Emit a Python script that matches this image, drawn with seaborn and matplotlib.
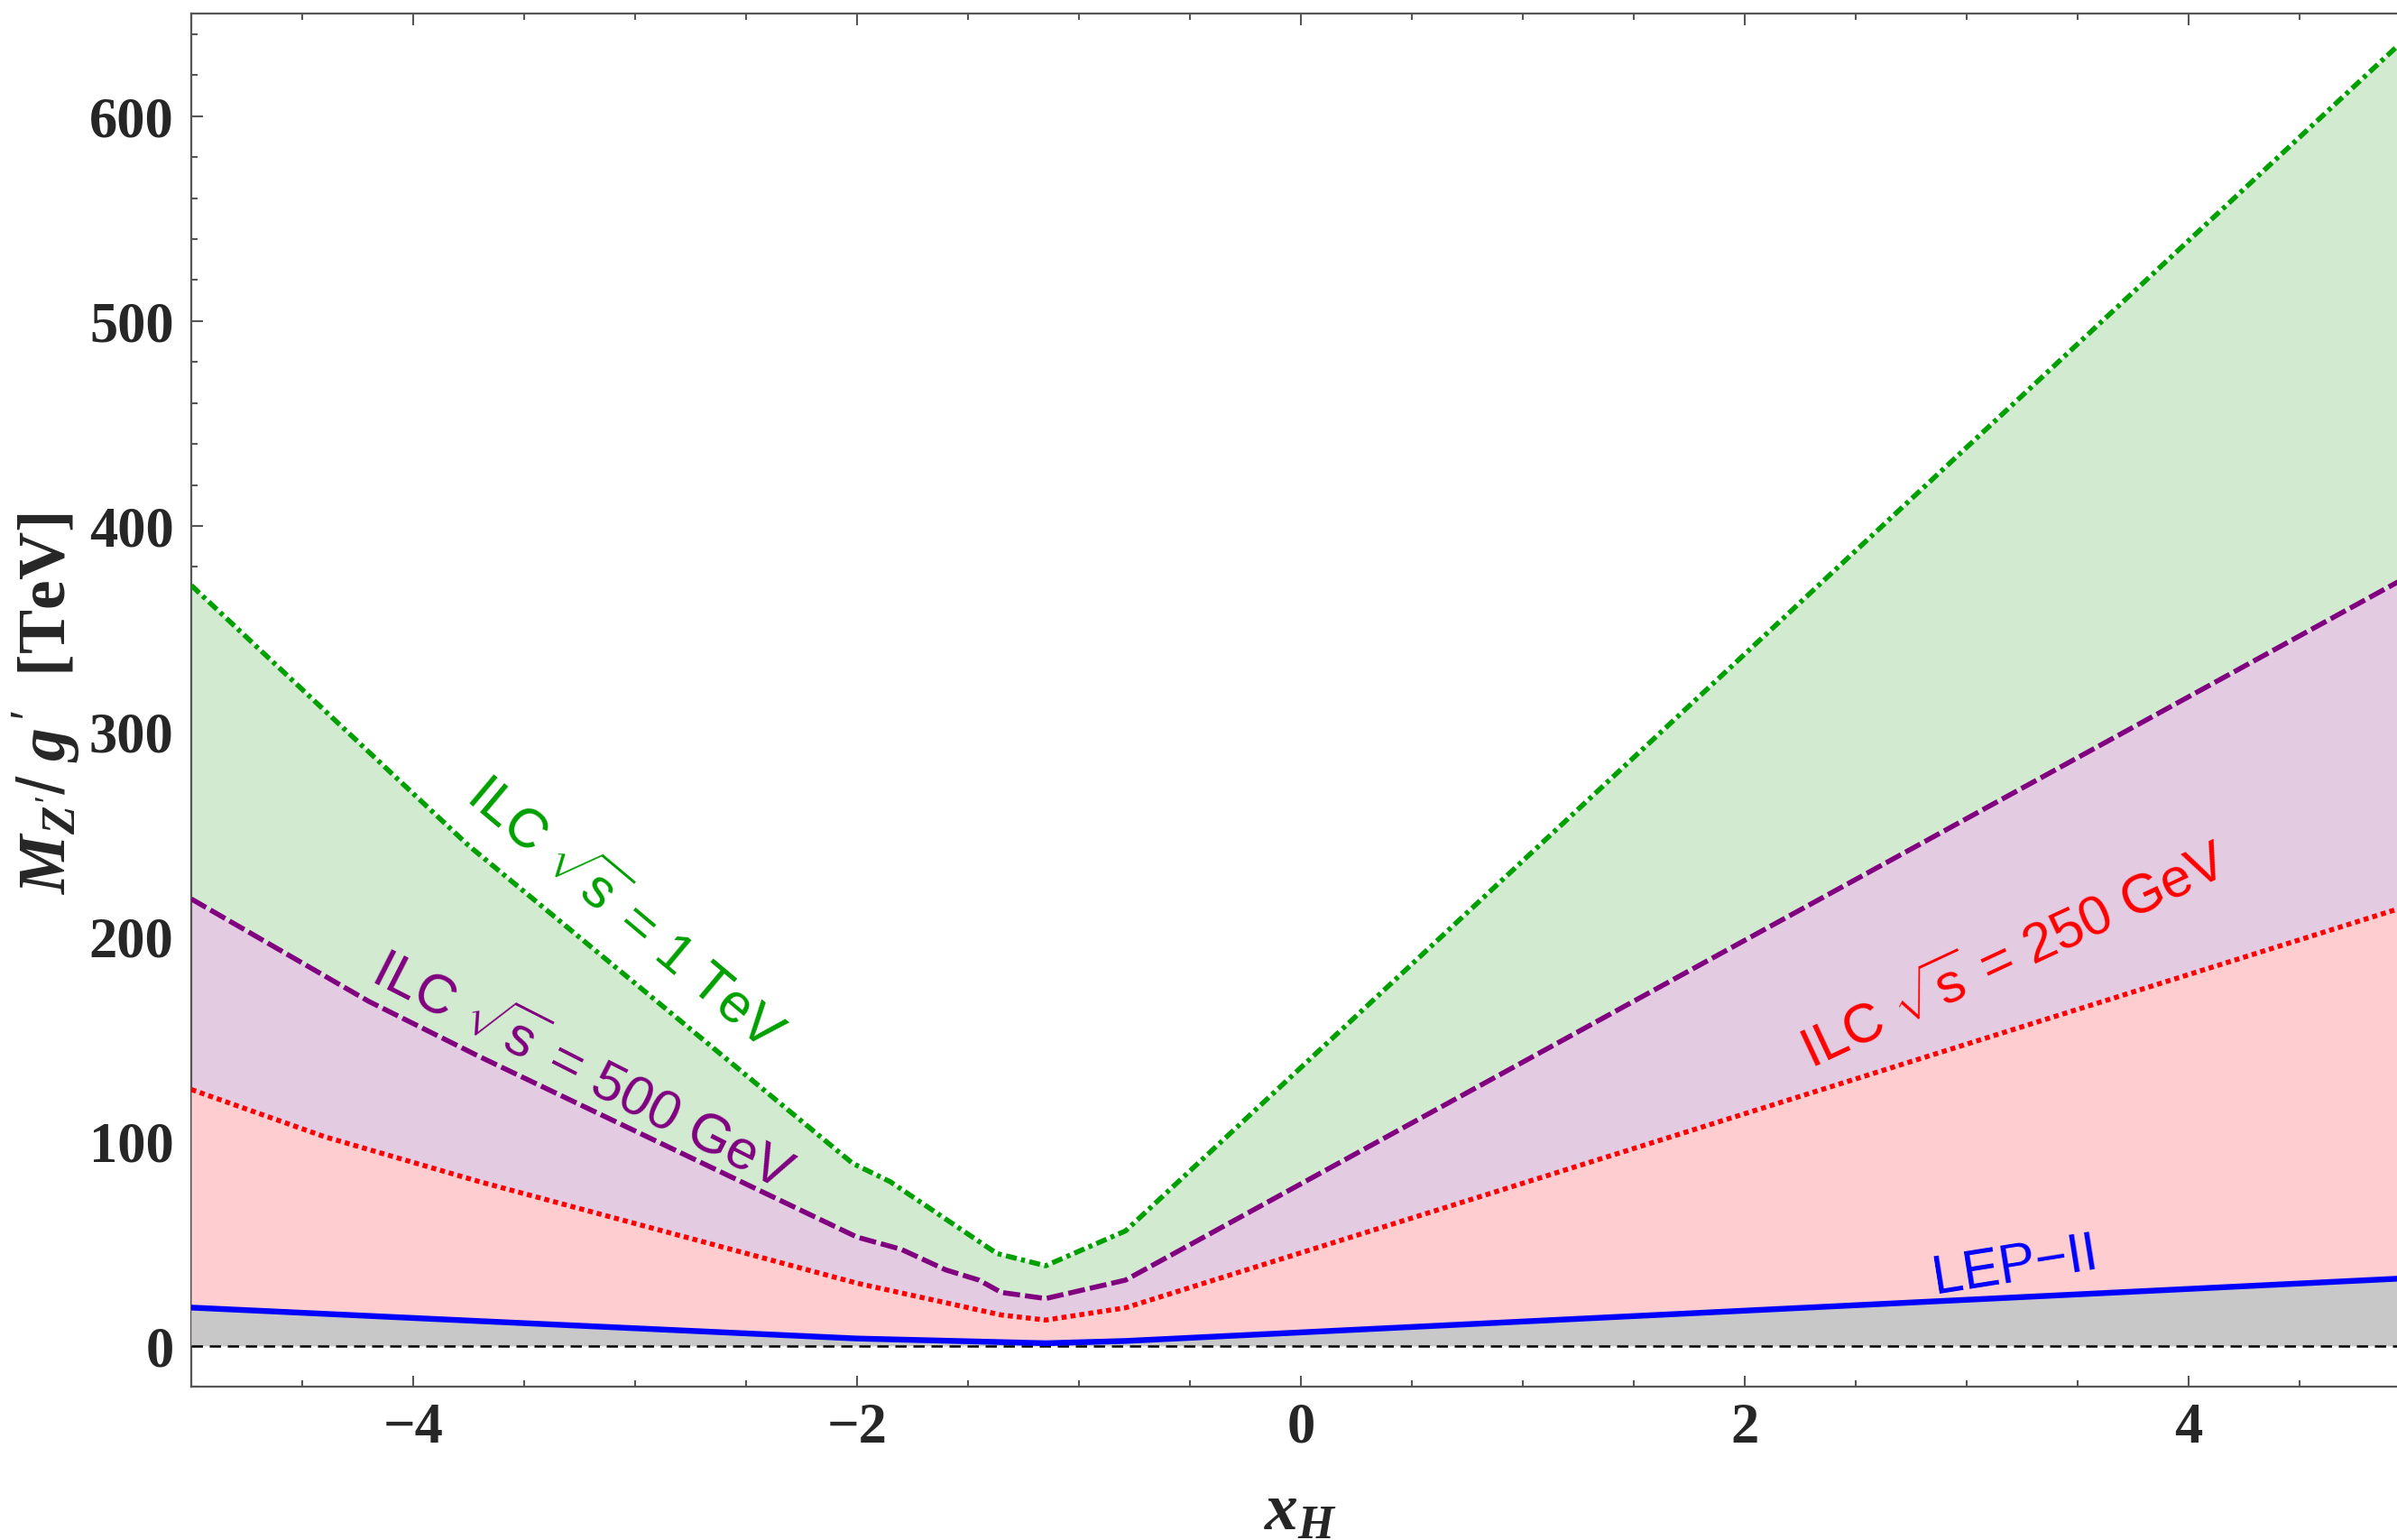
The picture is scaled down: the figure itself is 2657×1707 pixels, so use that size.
import numpy as np
import pandas as pd
import matplotlib
matplotlib.use("Agg")
import matplotlib.pyplot as plt
import seaborn as sns
from matplotlib.ticker import MultipleLocator

# bounds on M_Z'/g' [TeV] versus x_H
x_green = [-5.0, -3.75, -2.02, -1.85, -1.37, -1.15, -0.79, 5.0]
y_green = [371, 244, 89, 80, 45, 39, 56, 640]

x_purple = [-5.0, -4.2, -3.7, -2.0, -1.8, -1.6, -1.45, -1.35, -1.15, -0.79, 5.0]
y_purple = [218, 168, 141, 53, 47, 37, 32, 26, 23, 32, 376]

x_red = [-5.0, -4.4, -3.7, -2.0, -1.35, -1.15, -0.79, 5.0]
y_red = [125, 102, 80, 30.5, 15, 12.5, 18.5, 215]

x_blue = [-5.0, -3.7, -2.0, -1.15, -0.79, 5.0]
y_blue = [18.6, 12, 3.5, 1.2, 2.3, 33]

labels = ["ILC $\\sqrt{\\mathrm{s}}$ = 1 TeV", "ILC $\\sqrt{\\mathrm{s}}$ = 500 GeV",
          "ILC $\\sqrt{\\mathrm{s}}$ = 250 GeV", "LEP\u2212II"]

GREEN, PURPLE, RED, BLUE = "#00a000", "#800080", "#ff0000", "#0000ff"

sns.set_theme(style="ticks")
plt.rcParams["font.family"] = ["Liberation Serif", "DejaVu Serif"]
plt.rcParams["font.weight"] = "bold"
plt.rcParams["mathtext.fontset"] = "custom"
plt.rcParams["mathtext.rm"] = "Liberation Sans:regular"
plt.rcParams["mathtext.it"] = "Liberation Serif:italic:bold"
plt.rcParams["mathtext.bf"] = "Liberation Serif:bold"
plt.rcParams["axes.unicode_minus"] = True

fig = plt.figure(figsize=(26.57, 17.08), dpi=100)
ax = fig.add_axes([0.0798, 0.0995, 0.9202, 0.8911])

# filled regions, painted from the top curve down
ax.fill_between(x_green, 0, y_green, color="#d2ebd0", lw=0, zorder=1)
ax.fill_between(x_purple, 0, y_purple, color="#e3cbe1", lw=0, zorder=2)
ax.fill_between(x_red, 0, y_red, color="#fdcdd0", lw=0, zorder=3)
ax.fill_between(x_blue, 0, y_blue, color="#c8c8c8", lw=0, zorder=4)

ax.axhline(0, color="black", lw=1.8, ls=(0, (5, 3)), zorder=5)

sns.lineplot(x=x_green, y=y_green, ax=ax, color=GREEN, lw=4.0, sort=False,
             estimator=None, linestyle=(0, (2.2, 0.9, 0.8, 0.9)), zorder=6)
sns.lineplot(x=x_purple, y=y_purple, ax=ax, color=PURPLE, lw=4.0, sort=False,
             estimator=None, linestyle=(0, (3.4, 1.0)), zorder=6)
sns.lineplot(x=x_red, y=y_red, ax=ax, color=RED, lw=4.0, sort=False,
             estimator=None, linestyle=(0, (1.0, 0.8)), zorder=6)
sns.lineplot(x=x_blue, y=y_blue, ax=ax, color=BLUE, lw=4.6, sort=False,
             estimator=None, zorder=7)

txt = dict(family="Liberation Sans", fontweight="normal", fontsize=44,
           ha="center", va="center", rotation_mode="anchor", zorder=8)
ax.text(-3.05, 211, labels[0], color=GREEN, rotation=-40, **txt)
ax.text(-3.24, 134, labels[1], color=PURPLE, rotation=-27, **txt)
ax.text(3.22, 190, labels[2], color=RED, rotation=25, **txt)
ax.text(3.22, 39, labels[3], color=BLUE, rotation=9, **txt)

ax.set_xlim(-5, 4.94)
ax.set_ylim(-20, 650)
ax.xaxis.set_major_locator(MultipleLocator(2))
ax.xaxis.set_minor_locator(MultipleLocator(0.5))
ax.yaxis.set_major_locator(MultipleLocator(100))
ax.yaxis.set_minor_locator(MultipleLocator(20))

ax.tick_params(which="both", direction="in", top=True, right=False,
               color="#555555", width=1.5)
ax.tick_params(which="major", length=9, labelsize=45)
ax.tick_params(which="minor", length=5)
ax.tick_params(axis="x", pad=12)
ax.tick_params(axis="y", pad=14)
for lab in ax.get_xticklabels() + ax.get_yticklabels():
    lab.set_fontweight("bold")

for side in ["left", "bottom", "top"]:
    ax.spines[side].set_color("#555555")
    ax.spines[side].set_linewidth(1.6)
ax.spines["right"].set_visible(False)

ax.set_xlabel(r"$x_H$", fontsize=53)
ax.set_ylabel(r"$M_{Z'}/\;g^{\,\prime}$  [TeV]", fontsize=53, fontweight="bold")
ax.xaxis.set_label_coords(0.503, -0.092)
ax.yaxis.set_label_coords(-0.0654, 0.498)
ax.xaxis.label.set_va("center")
ax.yaxis.label.set_va("center")

fig.savefig("out.png", dpi=100)
